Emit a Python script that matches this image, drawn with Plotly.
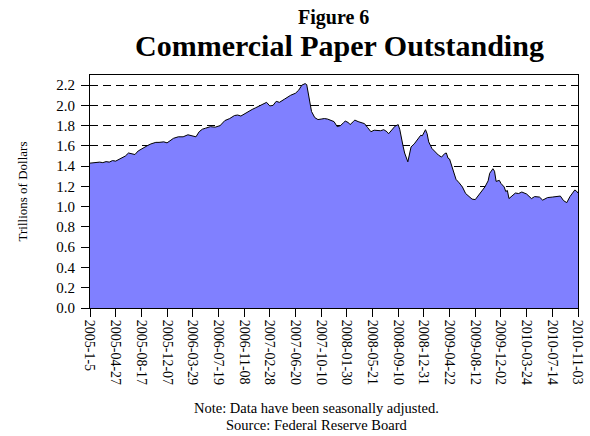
import datetime as dt
import plotly.graph_objects as go

week_offsets = [0, 3, 6, 8, 10, 12, 14, 16, 18, 20, 22, 24, 26, 28, 30, 33, 36, 38, 41, 43,
                46, 48, 50, 52, 55, 58, 61, 63, 66, 68, 70, 72, 74, 75, 78, 81, 84, 87, 90, 92,
                94, 97, 99, 101, 103, 105, 108, 110, 112, 114, 116, 118, 121, 123, 125, 128, 130, 132, 134, 135,
                137, 138, 140, 142, 144, 146, 148, 150, 152, 154, 156, 158, 159, 161, 162, 164, 165, 167, 169, 171,
                173, 175, 177, 179, 181, 183, 185, 186, 188, 190, 192, 193, 195, 196, 198, 200, 202, 203, 205, 206,
                207, 209, 210, 211, 213, 215, 217, 219, 221, 222, 223, 224, 226, 228, 230, 232, 234, 236, 238, 240,
                242, 244, 246, 248, 249, 251, 252, 253, 255, 256, 258, 259, 260, 261, 263, 265, 267, 269, 272, 275,
                277, 280, 282, 285, 288, 291, 293, 295, 297, 299, 302, 303, 304]
cp_outstanding = [1.43, 1.435, 1.44, 1.435, 1.445, 1.44, 1.455, 1.45, 1.465, 1.48, 1.50, 1.53, 1.52, 1.515, 1.55, 1.58, 1.605, 1.62, 1.635, 1.635,
                  1.64, 1.63, 1.65, 1.675, 1.69, 1.69, 1.71, 1.70, 1.69, 1.74, 1.765, 1.775, 1.785, 1.79, 1.785, 1.80, 1.85, 1.87, 1.90, 1.905,
                  1.895, 1.925, 1.94, 1.96, 1.975, 1.99, 2.01, 2.03, 1.995, 2.00, 2.04, 2.03, 2.06, 2.08, 2.10, 2.12, 2.15, 2.20, 2.215, 2.205,
                  2.05, 1.94, 1.88, 1.86, 1.865, 1.87, 1.865, 1.85, 1.84, 1.79, 1.80, 1.83, 1.845, 1.83, 1.81, 1.84, 1.855, 1.84, 1.83, 1.82,
                  1.78, 1.74, 1.755, 1.75, 1.75, 1.76, 1.74, 1.72, 1.76, 1.795, 1.81, 1.76, 1.60, 1.53, 1.443, 1.59, 1.62, 1.64, 1.68, 1.705,
                  1.70, 1.76, 1.72, 1.64, 1.575, 1.54, 1.51, 1.49, 1.525, 1.53, 1.48, 1.47, 1.38, 1.27, 1.235, 1.195, 1.13, 1.10, 1.075, 1.07,
                  1.115, 1.15, 1.195, 1.255, 1.33, 1.375, 1.35, 1.25, 1.26, 1.23, 1.195, 1.15, 1.16, 1.08, 1.105, 1.135, 1.13, 1.145, 1.125, 1.08,
                  1.10, 1.095, 1.065, 1.09, 1.095, 1.10, 1.105, 1.06, 1.04, 1.10, 1.165, 1.155, 1.135]

tick_labels = ["2005-1-5", "2005-04-27", "2005-08-17", "2005-12-07", "2006-03-29", "2006-07-19",
               "2006-11-08", "2007-02-28", "2007-06-20", "2007-10-10", "2008-01-30", "2008-05-21",
               "2008-09-10", "2008-12-31", "2009-04-22", "2009-08-12", "2009-12-02", "2010-03-24",
               "2010-07-14", "2010-11-03"]
y_ticks = [0.0, 0.2, 0.4, 0.6, 0.8, 1.0, 1.2, 1.4, 1.6, 1.8, 2.0, 2.2]

start = dt.date(2005, 1, 5)
dates = [start + dt.timedelta(weeks=w) for w in week_offsets]
tick_dates = [dt.date.fromisoformat(s) if len(s) == 10 else start for s in tick_labels]

FONT = "Liberation Serif, Times New Roman, serif"
PLOT_LEFT, PLOT_RIGHT = 90, 578
PLOT_TOP, PLOT_BOTTOM = 75, 308


def py_to_paper(py):
    return (PLOT_BOTTOM - py) / (PLOT_BOTTOM - PLOT_TOP)


def px_to_paper(px):
    return (px - PLOT_LEFT) / (PLOT_RIGHT - PLOT_LEFT)


fig = go.Figure()
fig.add_trace(go.Scatter(
    x=dates, y=cp_outstanding, mode="lines",
    fill="tozeroy", fillcolor="#8080FF",
    line=dict(color="black", width=1),
    hoverinfo="x+y",
))

fig.update_layout(
    width=590, height=436,
    margin=dict(l=PLOT_LEFT, r=590 - PLOT_RIGHT, t=PLOT_TOP, b=436 - PLOT_BOTTOM, autoexpand=False),
    paper_bgcolor="white", plot_bgcolor="white",
    font=dict(family=FONT, color="black", size=13),
    showlegend=False,
    annotations=[
        dict(text="<b>Figure 6</b>", x=px_to_paper(333), xref="paper", y=py_to_paper(17), yref="paper",
             yanchor="middle", showarrow=False, font=dict(size=20, family=FONT)),
        dict(text="<b>Commercial Paper Outstanding</b>", x=px_to_paper(339), xref="paper", y=py_to_paper(46),
             yref="paper", yanchor="middle", showarrow=False, font=dict(size=30, family=FONT)),
        dict(text="Note: Data have been seasonally adjusted.", x=px_to_paper(316), xref="paper",
             y=py_to_paper(408), yref="paper", yanchor="middle", showarrow=False,
             font=dict(size=14.5, family=FONT)),
        dict(text="Source: Federal Reserve Board", x=px_to_paper(317), xref="paper", y=py_to_paper(425),
             yref="paper", yanchor="middle", showarrow=False, font=dict(size=14.5, family=FONT)),
    ],
)

fig.update_xaxes(
    type="date", range=[start, dt.date(2010, 11, 3)],
    tickmode="array", tickvals=tick_dates, ticktext=tick_labels,
    tickangle=90, ticks="outside", ticklen=8, tickcolor="black",
    showline=True, linecolor="black", linewidth=1, mirror=True,
    showgrid=False, zeroline=False, tickfont=dict(size=14), automargin=False,
)
fig.update_yaxes(
    range=[0, 2.3], tickmode="array", tickvals=y_ticks,
    ticktext=[f"{v:.1f}" for v in y_ticks],
    ticks="outside", ticklen=8, tickcolor="black", ticklabelstandoff=3,
    showline=True, linecolor="black", linewidth=1, mirror=True,
    showgrid=True, gridcolor="black", gridwidth=1, griddash="8px,5px",
    zeroline=False, tickfont=dict(size=15), automargin=False,
    title=dict(text="Trillions of Dollars", font=dict(size=13), standoff=25),
)

fig.write_html("out.html", config={"displayModeBar": False},
               post_script="document.body.style.margin='0';")
